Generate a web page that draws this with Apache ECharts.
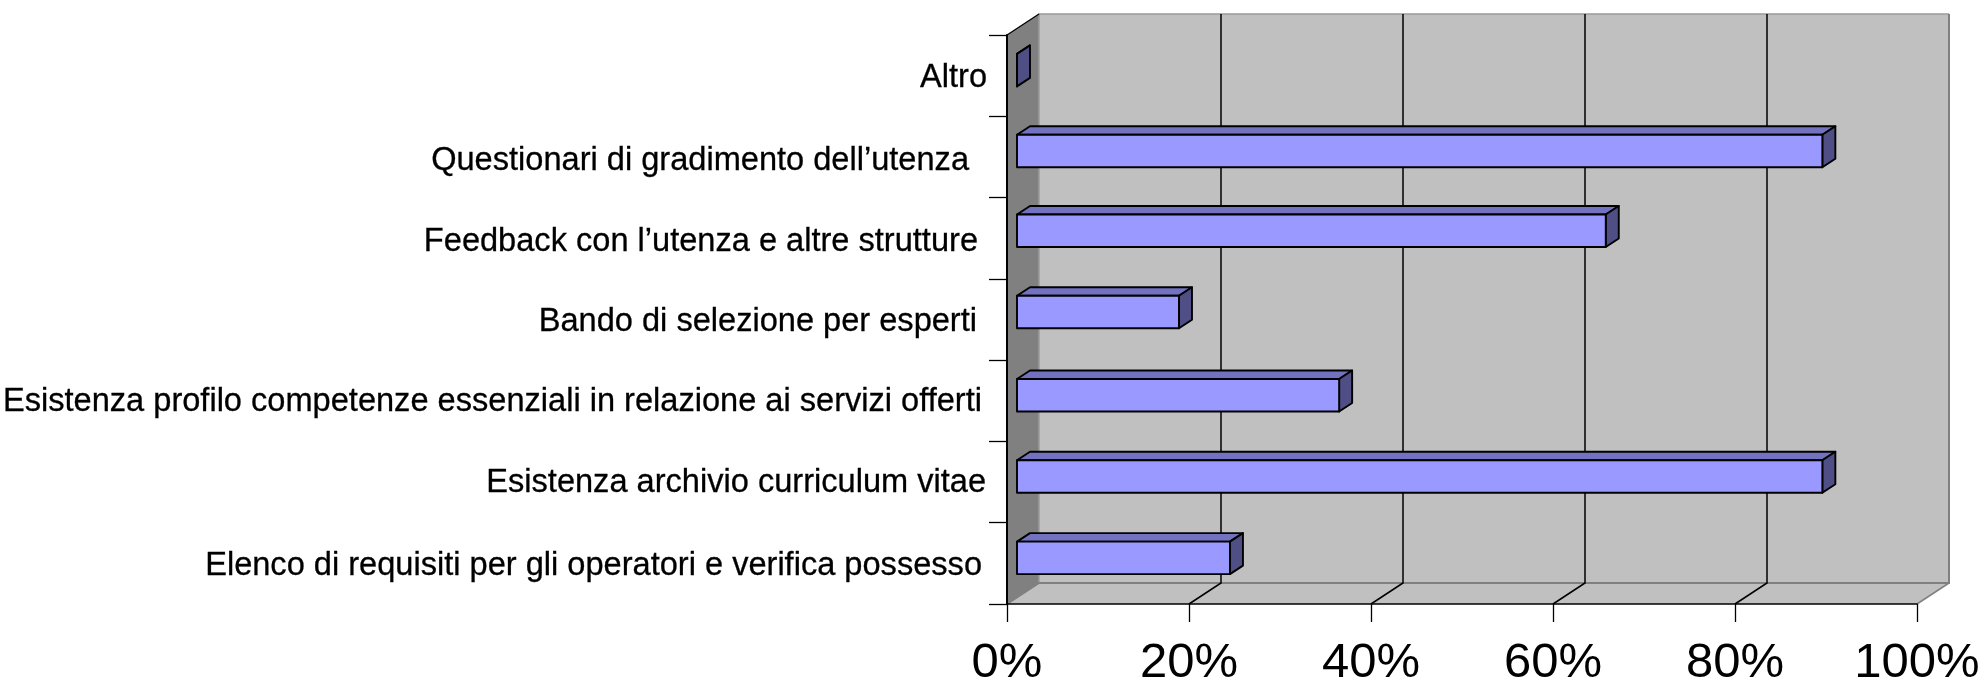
<!DOCTYPE html>
<html>
<head>
<meta charset="utf-8">
<style>html,body{margin:0;padding:0;background:#fff}#c{width:1986px;height:684px}</style>
<script src="https://cdn.jsdelivr.net/npm/echarts@6/dist/echarts.min.js"></script>
</head>
<body>
<div id="c"></div>
<script>
const categories = [
  'Elenco di requisiti per gli operatori e verifica possesso',
  'Esistenza archivio curriculum vitae',
  'Esistenza profilo competenze essenziali in relazione ai servizi offerti',
  'Bando di selezione per esperti',
  'Feedback con l’utenza e altre strutture',
  'Questionari di gradimento dell’utenza',
  'Altro'
];
const values = [23.4, 88.5, 35.4, 17.8, 64.7, 88.5, 0];
const valueTicks = [0, 20, 40, 60, 80, 100];

// Styling constants (separate from data)
const wallDepth = [32, -21];
const barDepth = [13, -8.5];
const barShift = [10, -5.5];
const barHeight = 32.5;
const barNudge = [0, 0, 0, -2, -2, -0.5, 0];
const labelInset = [5, 1, 5, 10, 9, 18, 0];
const labelDrop = [3, 1, 1, 3, 4, 4, 2.5];

const rich = {};
labelInset.forEach((n, i) => {
  rich['r' + i] = {
    fontFamily: 'Liberation Sans', fontSize: 32.6, color: '#000',
    textBorderColor: '#000', textBorderWidth: 0.3,
    padding: [labelDrop[i] * 2, n, 0, 0]
  };
});
const idx = {};
categories.forEach((c, i) => { idx[c] = i; });

const chart = echarts.init(document.getElementById('c'));
chart.setOption({
  animation: false,
  backgroundColor: '#fff',
  grid: { left: 1007, top: 35, width: 910, height: 569, containLabel: false, outerBoundsMode: 'none' },
  xAxis: {
    type: 'value', min: 0, max: 100, interval: 20, z: 6,
    axisLine: { show: true, lineStyle: { color: '#000', width: 1.5 } },
    axisTick: { show: true, length: 18, lineStyle: { color: '#000', width: 1.3 } },
    splitLine: { show: false },
    axisLabel: {
      formatter: '{value}%', margin: 35, fontFamily: 'Liberation Sans', fontSize: 49, color: '#000',
      hideOverlap: false, showMinLabel: true, showMaxLabel: true
    }
  },
  yAxis: {
    type: 'category', data: categories, z: 6,
    axisLine: { show: true, lineStyle: { color: '#000', width: 2 } },
    axisTick: { show: true, length: 18, alignWithLabel: false, lineStyle: { color: '#000', width: 1.3 } },
    splitLine: { show: false },
    axisLabel: {
      interval: 0, margin: 20, hideOverlap: false,
      formatter: v => '{r' + idx[v] + '|' + v + '}',
      rich
    }
  },
  series: [
    {
      type: 'custom', z: 1, silent: true, clip: false,
      coordinateSystem: 'cartesian2d',
      data: [[0, 0]],
      renderItem(params, api) {
        const cs = params.coordSys;
        const L = cs.x, T = cs.y, R = cs.x + cs.width, B = cs.y + cs.height;
        const dx = wallDepth[0], dy = wallDepth[1];
        const children = [
          { type: 'polygon', shape: { points: [[L + dx, T + dy], [R + dx, T + dy], [R + dx, B + dy], [L + dx, B + dy]] },
            style: { fill: '#C0C0C0', stroke: 'none' } },
          { type: 'polygon', shape: { points: [[L, T], [L + dx, T + dy], [L + dx, B + dy], [L, B]] },
            style: { fill: '#808080', stroke: 'none' } },
          { type: 'polygon', shape: { points: [[L, B], [L + dx, B + dy], [R + dx, B + dy], [R, B]] },
            style: { fill: '#C0C0C0', stroke: 'none' } },
          { type: 'polyline', shape: { points: [[L + dx, B + dy], [L + dx, T + dy], [R + dx, T + dy]] },
            style: { fill: 'none', stroke: '#9a9a9a', lineWidth: 1.5 } },
          { type: 'polyline', shape: { points: [[L, T], [L + dx, T + dy]] },
            style: { fill: 'none', stroke: '#000', lineWidth: 1.3 } },
          { type: 'polyline', shape: { points: [[L, B], [L + dx, B + dy], [R + dx, B + dy], [R + dx, T + dy]] },
            style: { fill: 'none', stroke: '#808080', lineWidth: 2 } },
          { type: 'polyline', shape: { points: [[R, B], [R + dx, B + dy]] },
            style: { fill: 'none', stroke: '#808080', lineWidth: 1.5 } }
        ];
        valueTicks.slice(1, -1).forEach(v => {
          const x = api.coord([v, 0])[0];
          children.push({ type: 'polyline',
            shape: { points: [[x, B], [x + dx, B + dy], [x + dx, T + dy]] },
            style: { fill: 'none', stroke: '#000', lineWidth: 1.5 } });
        });
        return { type: 'group', children };
      }
    },
    {
      type: 'custom', z: 3, clip: false,
      coordinateSystem: 'cartesian2d',
      encode: { x: 0, y: 1 },
      data: values.map((v, i) => [v, i]),
      renderItem(params, api) {
        const i = api.value(1);
        const base = api.coord([0, i]);
        const tip = api.coord([api.value(0), i]);
        const x0 = base[0] + barShift[0], x1 = tip[0] + barShift[0];
        const yT = base[1] + barShift[1] + barNudge[i] - barHeight / 2, yB = yT + barHeight;
        const dx = barDepth[0], dy = barDepth[1];
        const edge = { stroke: '#000', lineWidth: 1.9, lineJoin: 'round' };
        return { type: 'group', children: [
          { type: 'polygon', shape: { points: [[x0, yT], [x0 + dx, yT + dy], [x1 + dx, yT + dy], [x1, yT]] },
            style: Object.assign({ fill: '#7272C0' }, edge) },
          { type: 'polygon', shape: { points: [[x1, yT], [x1 + dx, yT + dy], [x1 + dx, yB + dy], [x1, yB]] },
            style: Object.assign({ fill: '#4F4F85' }, edge) },
          { type: 'polygon', shape: { points: [[x0, yT], [x1, yT], [x1, yB], [x0, yB]] },
            style: Object.assign({ fill: '#9999FF' }, edge) }
        ] };
      }
    }
  ]
});
</script>
</body>
</html>
